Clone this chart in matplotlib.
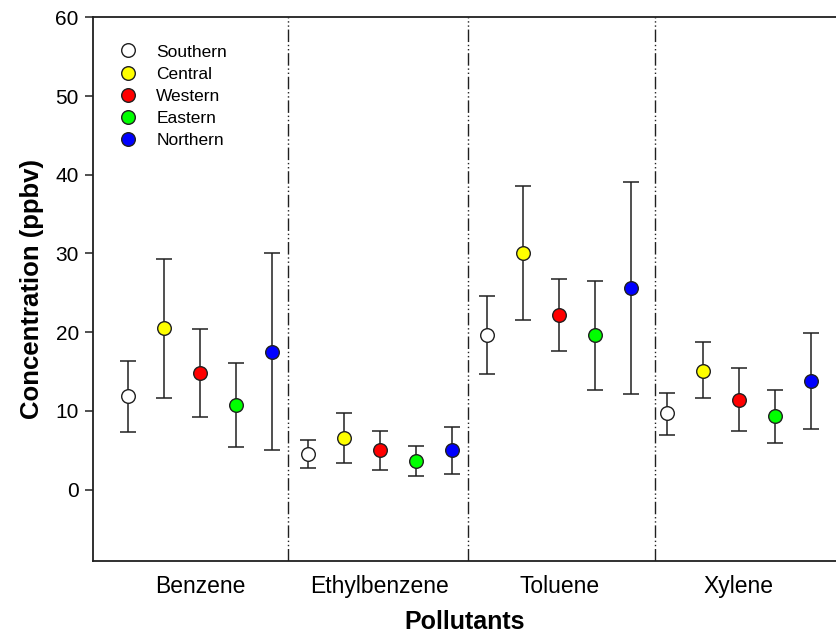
import numpy as np
import matplotlib
matplotlib.use("Agg")
from matplotlib import pyplot as plt
from matplotlib.lines import Line2D

plt.rcParams["font.family"] = ["Liberation Sans", "DejaVu Sans"]

pollutants = ["Benzene", "Ethylbenzene", "Toluene", "Xylene"]
regions = ["Southern", "Central", "Western", "Eastern", "Northern"]
region_colors = ["white", "#ffff00", "#ff0000", "#00ff00", "#0000ff"]

# mean / upper / lower per region, ordered by pollutant
southern = [11.9, 4.5, 19.6, 9.7]
southern_hi = [16.4, 6.3, 24.6, 12.3]
southern_lo = [7.3, 2.7, 14.7, 6.9]

central = [20.5, 6.6, 30.1, 15.1]
central_hi = [29.3, 9.7, 38.6, 18.7]
central_lo = [11.7, 3.4, 21.6, 11.6]

western = [14.8, 5.0, 22.2, 11.4]
western_hi = [20.4, 7.4, 26.7, 15.4]
western_lo = [9.2, 2.5, 17.6, 7.5]

eastern = [10.8, 3.7, 19.6, 9.3]
eastern_hi = [16.1, 5.5, 26.5, 12.7]
eastern_lo = [5.4, 1.7, 12.7, 5.9]

northern = [17.5, 5.1, 25.6, 13.8]
northern_hi = [30.0, 8.0, 39.1, 19.9]
northern_lo = [5.0, 2.0, 12.1, 7.7]

means = [southern, central, western, eastern, northern]
highs = [southern_hi, central_hi, western_hi, eastern_hi, northern_hi]
lows = [southern_lo, central_lo, western_lo, eastern_lo, northern_lo]

fig = plt.figure(figsize=(8.36, 6.39), dpi=100)
ax = fig.add_axes([0.1109, 0.1221, 0.8891, 0.8508])

group_x = np.arange(1, len(pollutants) + 1)
offsets = [-0.4, -0.2, 0.0, 0.2, 0.4]
ink = "#202020"

for i, region in enumerate(regions):
    m = np.array(means[i])
    hi = np.array(highs[i])
    lo = np.array(lows[i])
    ax.errorbar(group_x + offsets[i], m, yerr=[m - lo, hi - m], fmt="none",
                ecolor=ink, elinewidth=1.1, capsize=6, capthick=1.1, zorder=2)
    ax.plot(group_x + offsets[i], m, "o", ms=9.8, mfc=region_colors[i],
            mec=ink, mew=1.0, zorder=3, label=region)

for xd in [1.49, 2.49, 3.53]:
    ax.axvline(xd, color=ink, lw=1.0, ls=(0, (9, 2, 1, 2, 1, 2)), zorder=1)

ax.set_xlim(0.403, 4.54)
ax.set_ylim(-9.06, 60)
ax.set_yticks(np.arange(0, 61, 10))
ax.set_xticks(group_x)
ax.set_xticklabels(pollutants, fontsize=16.5)
ax.tick_params(axis="x", length=0, pad=10)
ax.tick_params(axis="y", length=6, width=1.1, labelsize=15, color=ink, pad=4)

for side in ["left", "top", "bottom"]:
    ax.spines[side].set_linewidth(1.3)
    ax.spines[side].set_color(ink)
ax.spines["right"].set_visible(False)

ax.set_ylabel("Concentration (ppbv)", fontsize=18.5, fontweight="bold", labelpad=8)
ax.set_xlabel("Pollutants", fontsize=18, fontweight="bold", labelpad=9)

handles = [Line2D([], [], ls="none", marker="o", ms=9.8, mfc=c, mec=ink, mew=1.0)
           for c in region_colors]
ax.legend(handles, regions, loc="upper left", bbox_to_anchor=(0.012, 0.979),
          frameon=False, fontsize=12.5, labelspacing=0.4, handletextpad=1.05,
          handlelength=1.2)

plt.savefig("out.png", dpi=100)
